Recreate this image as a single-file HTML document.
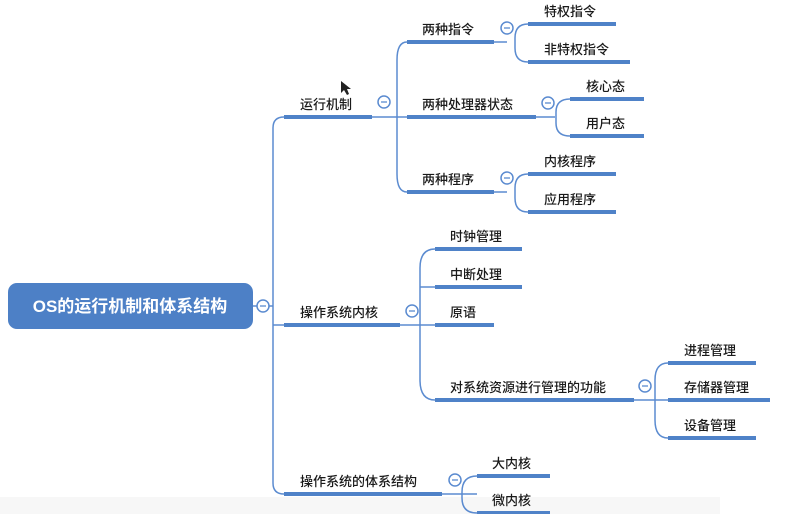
<!DOCTYPE html>
<html><head><meta charset="utf-8"><style>
html,body{margin:0;padding:0;background:#fff;}
svg{display:block;}
text{font-family:"Liberation Sans","Noto Sans CJK SC",sans-serif;font-size:13px;fill:#1a1a1a;font-weight:500;}
</style></head><body>
<svg width="800" height="514" viewBox="0 0 800 514" xmlns="http://www.w3.org/2000/svg">
<rect x="0" y="497" width="720" height="17" fill="#f7f7f7"/>
<g fill="none" stroke="#5b8bd0" stroke-width="1.5">
<!-- trunk -->
<path d="M253,306 H273"/>
<path d="M284,117 Q273,117 273,128 V483 Q273,494 284,494"/>
<path d="M273,325 H284"/>
<!-- 运行机制 children -->
<path d="M372,117 H407"/>
<path d="M407,42 Q397,42 397,60 V174 Q397,192 407,192"/>
<path d="M494,42 H507"/>
<path d="M528,24 Q515,24 515,38 V48 Q515,62 528,62"/>
<path d="M536,117 H555"/>
<path d="M570,99 Q556,99 556,112 V123 Q556,136 570,136"/>
<path d="M494,192 H507"/>
<path d="M528,174 Q515,174 515,188 V198 Q515,212 528,212"/>
<!-- 内核 children -->
<path d="M400,325 H435"/>
<path d="M435,249 Q420,249 420,268 V380 Q420,400 435,400"/>
<path d="M420,287 Q422,287 435,287"/>
<path d="M634,400 H668"/>
<path d="M668,363 Q655,363 655,380 V420 Q655,438 668,438"/>
<!-- 体系结构 children -->
<path d="M442,494 H477"/>
<path d="M477,476 Q462,476 462,492 V498 Q462,513 477,513"/>
</g>
<g stroke="#4f82c8" stroke-width="4" stroke-linecap="butt">
<line x1="284" y1="117" x2="372" y2="117"/>
<line x1="284" y1="325" x2="400" y2="325"/>
<line x1="284" y1="494" x2="442" y2="494"/>
<line x1="407" y1="42" x2="494" y2="42"/>
<line x1="407" y1="117" x2="536" y2="117"/>
<line x1="407" y1="192" x2="494" y2="192"/>
<line x1="528" y1="24" x2="616" y2="24"/>
<line x1="528" y1="62" x2="630" y2="62"/>
<line x1="570" y1="99" x2="644" y2="99"/>
<line x1="570" y1="136" x2="644" y2="136"/>
<line x1="528" y1="174" x2="616" y2="174"/>
<line x1="528" y1="212" x2="616" y2="212"/>
<line x1="435" y1="249" x2="522" y2="249"/>
<line x1="435" y1="287" x2="522" y2="287"/>
<line x1="435" y1="325" x2="494" y2="325"/>
<line x1="435" y1="400" x2="634" y2="400"/>
<line x1="668" y1="363" x2="756" y2="363"/>
<line x1="668" y1="400" x2="770" y2="400"/>
<line x1="668" y1="438" x2="756" y2="438"/>
<line x1="477" y1="476" x2="550" y2="476"/>
<line x1="477" y1="513" x2="550" y2="513"/>
</g>
<rect x="8" y="283" width="245" height="46" rx="9" fill="#4d80c6"/>
<text x="130" y="312" text-anchor="middle" style="fill:#fff;font-size:17px;font-weight:bold">OS的运行机制和体系结构</text>
<g fill="#fff" stroke="#5b8bd0" stroke-width="1.5">
<circle cx="263" cy="306" r="6"/>
<circle cx="384" cy="102" r="6"/>
<circle cx="507" cy="28" r="6"/>
<circle cx="548" cy="103" r="6"/>
<circle cx="507" cy="178" r="6"/>
<circle cx="412" cy="311" r="6"/>
<circle cx="645" cy="386" r="6"/>
<circle cx="455" cy="480" r="6"/>
</g>
<g stroke="#5b8bd0" stroke-width="1.3">
<line x1="260" y1="306" x2="266" y2="306"/>
<line x1="381" y1="102" x2="387" y2="102"/>
<line x1="504" y1="28" x2="510" y2="28"/>
<line x1="545" y1="103" x2="551" y2="103"/>
<line x1="504" y1="178" x2="510" y2="178"/>
<line x1="409" y1="311" x2="415" y2="311"/>
<line x1="642" y1="386" x2="648" y2="386"/>
<line x1="452" y1="480" x2="458" y2="480"/>
</g>
<text x="300" y="109">运行机制</text>
<text x="300" y="317">操作系统内核</text>
<text x="300" y="486">操作系统的体系结构</text>
<text x="422" y="34">两种指令</text>
<text x="422" y="109">两种处理器状态</text>
<text x="422" y="184">两种程序</text>
<text x="544" y="16">特权指令</text>
<text x="544" y="54">非特权指令</text>
<text x="586" y="91">核心态</text>
<text x="586" y="128">用户态</text>
<text x="544" y="166">内核程序</text>
<text x="544" y="204">应用程序</text>
<text x="450" y="241">时钟管理</text>
<text x="450" y="279">中断处理</text>
<text x="450" y="317">原语</text>
<text x="450" y="392">对系统资源进行管理的功能</text>
<text x="684" y="355">进程管理</text>
<text x="684" y="392">存储器管理</text>
<text x="684" y="430">设备管理</text>
<text x="492" y="468">大内核</text>
<text x="492" y="505">微内核</text>
<path d="M341,81 L341,93 L344,90 L347,95 L349,94 L347,89 L351,89 Z" fill="#222"/>
</svg>
</body></html>
